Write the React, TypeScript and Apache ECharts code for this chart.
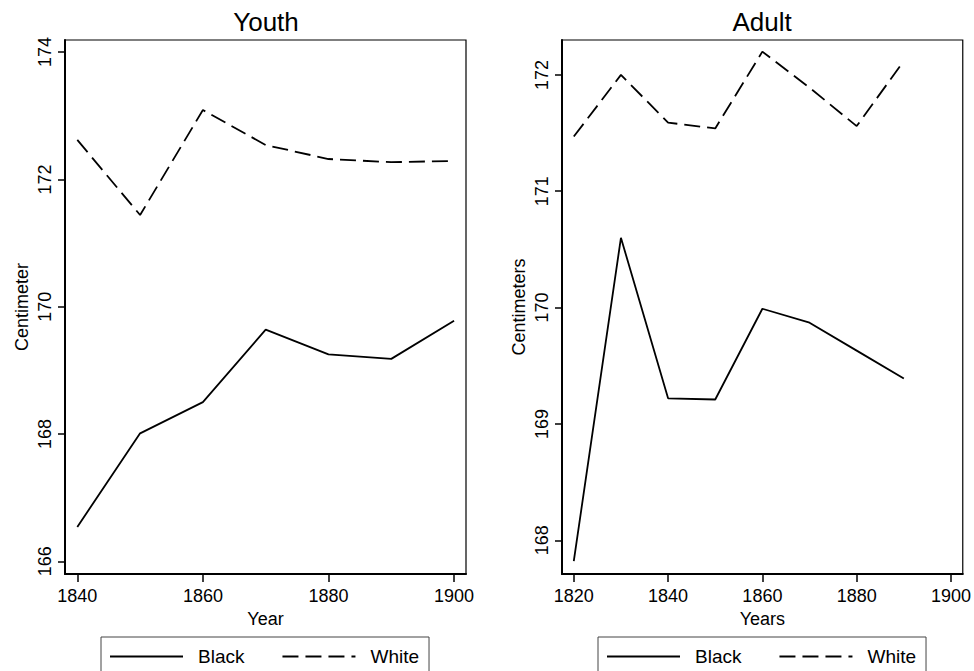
import React, { useEffect, useRef } from "react";
import * as echarts from "echarts";

const youthYears = [1840, 1850, 1860, 1870, 1880, 1890, 1900];
const youthBlack = [166.54, 168.01, 168.5, 169.64, 169.25, 169.18, 169.78];
const youthWhite = [172.62, 171.44, 173.09, 172.54, 172.32, 172.27, 172.29];

const adultYears = [1820, 1830, 1840, 1850, 1860, 1870, 1880, 1890];
const adultBlack = [167.82, 170.6, 169.22, 169.21, 169.99, 169.87, 169.63, 169.39];
const adultWhite = [171.47, 172.0, 171.59, 171.54, 172.2, 171.89, 171.56, 172.12];

const youthXTicks = [1840, 1860, 1880, 1900];
const youthYTicks = [166, 168, 170, 172, 174];
const adultXTicks = [1820, 1840, 1860, 1880, 1900];
const adultYTicks = [168, 169, 170, 171, 172];

const FONT = "'Liberation Sans', Arial, Helvetica, sans-serif";

const pair = (xs: number[], ys: number[]) => xs.map((x, i) => [x, ys[i]]);

export default function App() {
  const ref = useRef<HTMLDivElement>(null);
  useEffect(() => {
    if (!ref.current) return;
    const chart = echarts.init(ref.current, null, { renderer: "svg" });
    const axisLineStyle = { color: "#000", width: 2 };
    const xAxisBase = (min: number, max: number, ticks: number[], name: string, gridIndex: number) => ({
      type: "value",
      gridIndex,
      min,
      max,
      name,
      nameLocation: "middle",
      nameGap: 27,
      nameTextStyle: { color: "#000", fontSize: 18, fontFamily: FONT },
      splitLine: { show: false },
      axisLine: { show: true, lineStyle: axisLineStyle },
      axisTick: { show: true, length: 8, customValues: ticks, lineStyle: { color: "#000", width: 1.5 } },
      axisLabel: {
        customValues: ticks,
        margin: 13,
        color: "#000",
        fontSize: 18,
        fontFamily: FONT,
        formatter: (v: number) => String(Math.round(v)),
      },
    });
    const yAxisBase = (min: number, max: number, ticks: number[], name: string, gridIndex: number) => ({
      type: "value",
      gridIndex,
      min,
      max,
      name,
      nameLocation: "middle",
      nameGap: 34,
      nameTextStyle: { color: "#000", fontSize: 18, fontFamily: FONT },
      splitLine: { show: false },
      axisLine: { show: true, lineStyle: axisLineStyle },
      axisTick: { show: true, length: 7, customValues: ticks, lineStyle: { color: "#000", width: 1.5 } },
      axisLabel: {
        customValues: ticks,
        rotate: 90,
        margin: 11,
        color: "#000",
        fontSize: 18,
        fontFamily: FONT,
        formatter: (v: number) => String(Math.round(v)),
      },
    });
    const solid = { color: "#000", width: 1.8, type: "solid" };
    const dashed = { color: "#000", width: 1.8, type: [16, 7] };
    const legendBase = (left: number) => ({
      left,
      top: 637,
      orient: "horizontal",
      selectedMode: false,
      data: ["Black", "White"],
      itemWidth: 73,
      itemHeight: 14,
      itemGap: 37,
      padding: [10, 10, 10, 8],
      borderColor: "#444",
      borderWidth: 1,
      itemStyle: { opacity: 0 },
      textStyle: { color: "#000", fontSize: 19, fontFamily: FONT, padding: [0, 0, 0, 10] },
    });
    const titleStyle = { color: "#000", fontSize: 26, fontWeight: "normal", fontFamily: FONT };
    chart.setOption({
      animation: false,
      backgroundColor: "#fff",
      title: [
        { text: "Youth", left: 266, top: 9, padding: 0, textAlign: "center", textStyle: titleStyle },
        { text: "Adult", left: 762, top: 9, padding: 0, textAlign: "center", textStyle: titleStyle },
      ],
      grid: [
        { left: 65, right: 508, top: 40, bottom: 97, show: true, borderColor: "#000", borderWidth: 1.2, backgroundColor: "transparent" },
        { left: 562, right: 11, top: 40, bottom: 97, show: true, borderColor: "#000", borderWidth: 1.2, backgroundColor: "transparent" },
      ],
      xAxis: [
        xAxisBase(1838.04, 1901.9, youthXTicks, "Year", 0),
        xAxisBase(1817.5, 1902.5, adultXTicks, "Years", 1),
      ],
      yAxis: [
        yAxisBase(165.8, 174.19, youthYTicks, "Centimeter", 0),
        yAxisBase(167.71, 172.3, adultYTicks, "Centimeters", 1),
      ],
      legend: [legendBase(101), legendBase(598)],
      series: [
        { name: "Black", type: "line", xAxisIndex: 0, yAxisIndex: 0, data: pair(youthYears, youthBlack), symbol: "none", lineStyle: solid, itemStyle: { color: "#000" } },
        { name: "White", type: "line", xAxisIndex: 0, yAxisIndex: 0, data: pair(youthYears, youthWhite), symbol: "none", lineStyle: dashed, itemStyle: { color: "#000" } },
        { name: "Black", type: "line", xAxisIndex: 1, yAxisIndex: 1, data: pair(adultYears, adultBlack), symbol: "none", lineStyle: solid, itemStyle: { color: "#000" } },
        { name: "White", type: "line", xAxisIndex: 1, yAxisIndex: 1, data: pair(adultYears, adultWhite), symbol: "none", lineStyle: dashed, itemStyle: { color: "#000" } },
      ],
    } as any);
    return () => chart.dispose();
  }, []);
  return (
    <div
      ref={ref}
      style={{ position: "fixed", left: 0, top: 0, width: 974, height: 671, background: "#fff" }}
    />
  );
}
